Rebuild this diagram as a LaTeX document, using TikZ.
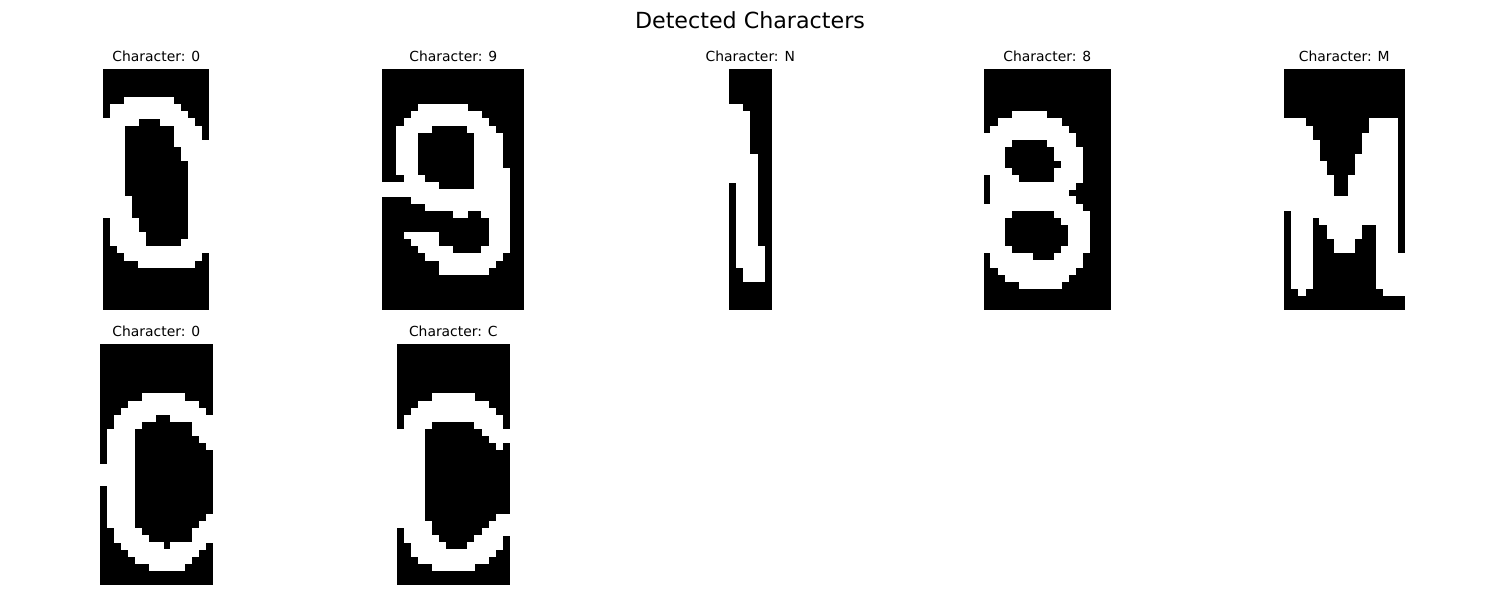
\documentclass[tikz,border=0pt]{standalone}
\usepackage{fontspec}
\setmainfont{DejaVu Sans}
\newcommand\charimg[4]{%
  \begin{scope}[shift={(#1,#2)}]
  \begin{scope}[x=3.5441pt,y=-3.5441pt]
  \fill[black] (0,0) rectangle (#3,34);
  \foreach \r/\a/\b in {#4}{\fill[white] ({\a-0.02},{\r-0.02}) rectangle ({\b+1.02},{\r+1.02});}
  \end{scope}\end{scope}}
\tikzset{
  subtitle/.style={anchor=base, inner sep=0pt, font=\fontsize{6.94}{8}\selectfont},
  maintitle/.style={anchor=base, inner sep=0pt, font=\fontsize{11.1}{13}\selectfont}
}
\begin{document}
\begin{tikzpicture}[x=0.5pt,y=-0.5pt]
\useasboundingbox (0,0) rectangle (1500,600);
\fill[white] (0,0) rectangle (1500,600);
\node[maintitle] (sup) at (750,28) {Detected Characters};
% titles
\node[subtitle] (t1) at (156.3,61) {Character: 0};
\node[subtitle] (t2) at (453.3,61) {Character: 9};
\node[subtitle] (t3) at (750.3,61) {Character: N};
\node[subtitle] (t4) at (1047.3,61) {Character: 8};
\node[subtitle] (t5) at (1344.3,61) {Character: M};
\node[subtitle] (t6) at (156.3,336) {Character: 0};
\node[subtitle] (t7) at (453.3,336) {Character: C};
% image 1: 0
\charimg{103.1}{69}{15}{4/3/9, 5/1/10, 6/1/11, 7/0/4, 7/8/12, 8/0/2, 8/10/13, 9/0/2, 9/10/13,
 10/0/2, 10/10/14, 11/0/2, 11/11/14, 12/0/2, 12/11/14, 13/0/2, 13/12/14,
 14/0/2, 14/12/14, 15/0/2, 15/12/14, 16/0/2, 16/12/14, 17/0/2, 17/12/14,
 18/0/3, 18/12/14, 19/0/3, 19/12/14, 20/0/3, 20/12/14,
 21/1/4, 21/12/14, 22/1/4, 22/12/14, 23/1/5, 23/12/14, 24/1/5, 24/11/14,
 25/2/14, 26/3/13, 27/5/12}
% image 2: 9
\charimg{382.4}{69}{20}{5/5/11, 6/4/13, 7/3/14, 8/2/6, 8/12/15, 9/2/4, 9/13/16,
 10/2/4, 10/13/16, 11/2/4, 11/13/16, 12/2/4, 12/13/16, 13/2/4, 13/13/16,
 14/2/4, 14/13/17, 15/3/5, 15/13/17, 16/0/7, 16/13/17, 17/0/17,
 18/4/17, 19/6/17, 20/10/11, 20/14/17, 21/15/17, 22/15/17,
 23/3/7, 23/15/17, 24/4/7, 24/15/17, 25/5/9, 25/14/17,
 26/6/16, 27/8/15, 28/8/14}
% image 3: N
\charimg{729}{69}{6}{5/0/1, 6/0/2, 7/0/2, 8/0/2, 9/0/2, 10/0/2, 11/0/2,
 12/0/3, 13/0/3, 14/0/3, 15/0/3, 16/1/3, 17/1/3, 18/1/3, 19/1/3, 20/1/3,
 21/1/3, 22/1/3, 23/1/3, 24/1/3, 25/1/4, 26/1/4, 27/1/4, 28/2/4, 29/2/4}
% image 4: 8
\charimg{983.5}{69}{18}{6/4/8, 7/2/10, 8/1/11, 9/0/12, 10/0/3, 10/9/12,
 11/0/2, 11/10/13, 12/0/2, 12/10/13, 13/0/2, 13/11/13, 14/0/3, 14/10/13,
 15/1/4, 15/10/13, 16/1/12, 17/1/11, 18/1/12, 19/0/13,
 20/0/3, 20/10/14, 21/0/2, 21/11/14, 22/0/2, 22/12/14, 23/0/2, 23/12/14,
 24/0/2, 24/12/14, 25/0/3, 25/11/14, 26/1/6, 26/10/13,
 27/1/13, 28/2/12, 29/3/11, 30/5/10}
% image 5: M
\charimg{1284.1}{69}{17}{7/0/2, 7/12/15, 8/0/3, 8/12/15, 9/0/3, 9/11/15,
 10/0/4, 10/11/15, 11/0/4, 11/11/15, 12/0/4, 12/10/15, 13/0/5, 13/10/15,
 14/0/5, 14/10/15, 15/0/6, 15/9/15, 16/0/6, 16/9/15, 17/0/6, 17/9/15,
 18/0/15, 19/0/15, 20/1/15, 21/1/3, 21/5/15,
 22/1/3, 22/6/10, 22/13/15, 23/1/3, 23/6/10, 23/13/15,
 24/1/3, 24/7/9, 24/13/15, 25/1/3, 25/7/9, 25/13/15,
 26/1/3, 26/13/16, 27/1/3, 27/13/16, 28/1/3, 28/13/16,
 29/1/3, 29/13/16, 30/1/3, 30/13/16, 31/2/2, 31/14/16}
% image 6: 0
\charimg{99.6}{344}{16}{7/6/11, 8/4/13, 9/3/14, 10/2/7, 10/10/15,
 11/2/5, 11/13/15, 12/1/4, 12/13/15, 13/1/4, 13/14/15, 14/1/4, 14/15/15,
 15/1/4, 16/1/4, 17/0/4, 18/0/4, 19/0/4, 20/1/4, 21/1/4, 22/1/4, 23/1/4,
 24/1/4, 24/15/15, 25/1/4, 25/14/15, 26/2/5, 26/13/15, 27/2/6, 27/13/15,
 28/3/8, 28/10/14, 29/4/13, 30/5/12, 31/7/11}
% image 7: C
\charimg{396.6}{344}{16}{7/5/10, 8/3/12, 9/2/13, 10/1/14, 11/1/4, 11/11/14,
 12/0/3, 12/12/15, 13/0/3, 13/13/15, 14/0/3, 14/14/14,
 15/0/3, 16/0/3, 17/0/3, 18/0/3, 19/0/3, 20/0/3, 21/0/3, 22/0/3, 23/0/3,
 24/0/3, 24/14/15, 25/0/4, 25/13/15, 26/1/4, 26/12/15, 27/1/5, 27/11/14,
 28/2/6, 28/10/14, 29/2/13, 30/3/12, 31/5/10}
\end{tikzpicture}
\end{document}
